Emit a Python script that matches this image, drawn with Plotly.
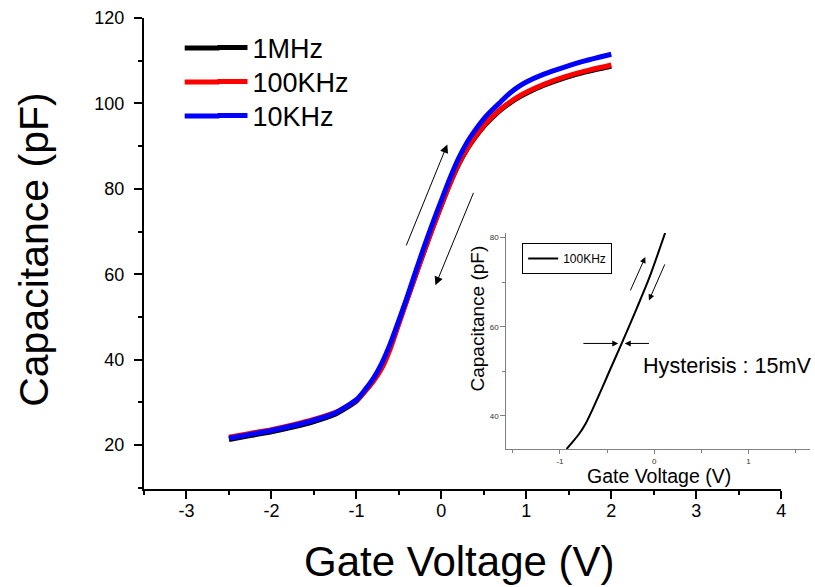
import plotly.graph_objects as go

# ---------------- data ----------------
gate_v = [-2.5, -2.25, -2.0, -1.75, -1.5, -1.25, -1.0, -0.9, -0.8, -0.7, -0.6, -0.5,
          -0.4, -0.3, -0.2, -0.1, 0.0, 0.1, 0.2, 0.3, 0.4, 0.5, 0.6, 0.7, 0.8, 0.9,
          1.0, 1.2, 1.45, 1.7, 2.0]
c_1mhz = [21.3, 22.2, 23.1, 24.2, 25.5, 27.2, 30.3, 32.6, 35.2, 38.6, 43.2, 48.8,
          54.4, 60.0, 65.6, 71.0, 76.2, 81.2, 85.6, 89.2, 92.1, 94.6, 96.7, 98.5, 100.0, 101.3,
          102.4, 104.2, 106.0, 107.4, 108.7]
c_100khz = [21.8, 22.7, 23.6, 24.7, 26.0, 27.6, 30.5, 32.5, 34.9, 38.0, 42.6, 48.4,
            54.2, 59.9, 65.5, 70.9, 76.1, 81.1, 85.6, 89.3, 92.2, 94.8, 96.9, 98.7, 100.2, 101.5,
            102.6, 104.4, 106.2, 107.6, 109.0]
c_10khz = [21.6, 22.5, 23.4, 24.5, 25.8, 27.5, 30.6, 32.9, 35.6, 39.2, 43.8, 49.2,
           54.8, 60.8, 66.6, 72.1, 77.3, 82.4, 87.0, 90.8, 93.8, 96.4, 98.5, 100.4, 102.3, 103.8,
           105.0, 106.8, 108.5, 110.0, 111.5]

inset_v = [-0.93, -0.87, -0.8, -0.73, -0.65, -0.55, -0.47, -0.33, -0.19, -0.05, 0.12]
inset_c = [32.6, 34.1, 35.9, 38.2, 41.7, 46.4, 50.3, 57.0, 63.9, 71.1, 81.3]

x_ticks = [-3, -2, -1, 0, 1, 2, 3, 4]
x_tick_text = ["-3", "-2", "-1", "0", "1", "2", "3", "4"]
y_ticks = [20, 40, 60, 80, 100, 120]
inset_x_ticks = [-1, 0, 1]
inset_x_tick_text = ["-1", "0", "1"]
inset_y_ticks = [40, 60, 80]

series_names = ["1MHz", "100KHz", "10KHz"]
series_colors = ["#000000", "#ff0000", "#0000ff"]

FONT = "Arial, Liberation Sans, sans-serif"

# main plot area: x 144..786 px, y 18..489 px; inset reaches the right edge (815)
PW, PH, L, T = 671, 471, 144, 18
def px_x(p):
    return (p - L) / PW
def px_y(p):
    return (T + PH - p) / PH

legend_rows = [48, 82, 116]          # pixel row centres of the main legend
legend_ids = ["legend", "legend3", "legend4"]

fig = go.Figure()
for name, vals, col, lid in zip(series_names, [c_1mhz, c_100khz, c_10khz],
                                series_colors, legend_ids):
    fig.add_trace(go.Scatter(x=gate_v, y=vals, mode="lines", name=name,
                             line=dict(color=col, width=5, shape="spline", smoothing=0.6),
                             xaxis="x", yaxis="y", legend=lid))

fig.add_trace(go.Scatter(x=inset_v, y=inset_c, mode="lines", name="100KHz",
                         line=dict(color="black", width=2, shape="spline", smoothing=0.8),
                         xaxis="x2", yaxis="y2", legend="legend2"))

main_w = 642 / PW

layout_legends = {}
for lid, row in zip(legend_ids, legend_rows):
    layout_legends[lid] = dict(x=px_x(213), y=px_y(row), xanchor="left", yanchor="middle",
                               font=dict(size=27, family=FONT), bgcolor="rgba(0,0,0,0)",
                               borderwidth=0, itemwidth=30)

fig.update_layout(
    width=815, height=587,
    margin=dict(l=L, r=0, t=T, b=98),
    paper_bgcolor="white", plot_bgcolor="rgba(0,0,0,0)",
    font=dict(family=FONT, color="black"),
    showlegend=True,
    xaxis=dict(domain=[0, main_w], range=[-3.5, 4], tickmode="array",
               tickvals=x_ticks, ticktext=x_tick_text,
               showline=True, linecolor="black", linewidth=2,
               ticks="outside", ticklen=8, tickwidth=2, tickcolor="black",
               minor=dict(tickmode="linear", tick0=-3.5, dtick=0.5, ticks="outside",
                          ticklen=4, tickwidth=2, tickcolor="black"),
               showgrid=False, zeroline=False, tickfont=dict(size=18),
               ticklabelstandoff=-4, anchor="y"),
    yaxis=dict(domain=[0, 1], range=[9.7, 120], tickmode="array", tickvals=y_ticks,
               showline=True, linecolor="black", linewidth=2,
               ticks="outside", ticklen=8, tickwidth=2, tickcolor="black",
               minor=dict(tickmode="linear", tick0=10, dtick=10, ticks="outside",
                          ticklen=4, tickwidth=2, tickcolor="black"),
               showgrid=False, zeroline=False, tickfont=dict(size=18),
               ticklabelstandoff=6, anchor="x"),
    xaxis2=dict(domain=[px_x(509), 1.0], range=[-1.57, 1.653], tickmode="array",
                tickvals=inset_x_ticks, ticktext=inset_x_tick_text,
                showline=True, linecolor="#808080", linewidth=1,
                ticks="outside", ticklen=4, tickwidth=1, tickcolor="#808080",
                minor=dict(tickmode="linear", tick0=-1.5, dtick=0.5, ticks="outside",
                           ticklen=3, tickwidth=1, tickcolor="#808080"),
                showgrid=False, zeroline=False, tickfont=dict(size=8, color="#333333"),
                anchor="y2"),
    yaxis2=dict(domain=[px_y(449), px_y(233)], range=[32.6, 81],
                tickmode="array", tickvals=inset_y_ticks,
                showline=True, linecolor="#808080", linewidth=1,
                ticks="outside", ticklen=5, tickwidth=1, tickcolor="#808080",
                minor=dict(tickmode="linear", tick0=30, dtick=10, ticks="outside",
                           ticklen=3, tickwidth=1, tickcolor="#808080"),
                showgrid=False, zeroline=False, tickfont=dict(size=8, color="#333333"),
                anchor="x2"),
    legend2=dict(x=px_x(525), y=px_y(243), xanchor="left", yanchor="top",
                 font=dict(size=12, family=FONT), bgcolor="white",
                 bordercolor="black", borderwidth=1, itemwidth=30),
    **layout_legends,
)

# lengthen the legend line samples to the left (legend styling only)
shapes = []
for row, col in zip(legend_rows, series_colors):
    shapes.append(dict(type="line", xref="paper", yref="paper",
                       x0=px_x(185), x1=px_x(220), y0=px_y(row), y1=px_y(row),
                       line=dict(color=col, width=5)))
fig.update_layout(shapes=shapes)

annotations = [
    # axis titles
    dict(text="Gate Voltage (V)", xref="paper", yref="paper",
         x=px_x(462), y=px_y(561), showarrow=False,
         font=dict(size=42, family=FONT), xanchor="center", yanchor="middle"),
    dict(text="Capacitance (pF)", xref="paper", yref="paper",
         x=px_x(33), y=px_y(250), showarrow=False, textangle=-90,
         font=dict(size=41, family=FONT), xanchor="center", yanchor="middle"),
    dict(text="Gate Voltage (V)", xref="paper", yref="paper",
         x=px_x(663), y=px_y(476), showarrow=False,
         font=dict(size=19.5, family=FONT), xanchor="center", yanchor="middle"),
    dict(text="Capacitance (pF)", xref="paper", yref="paper",
         x=px_x(480), y=px_y(318), showarrow=False, textangle=-90,
         font=dict(size=19, family=FONT), xanchor="center", yanchor="middle"),
    dict(text="Hysterisis : 15mV", xref="x2", yref="y2", x=-0.137, y=51.2,
         showarrow=False, font=dict(size=21.6, family=FONT), xanchor="left", yanchor="middle"),
]

arrow_style = dict(showarrow=True, text="", arrowhead=2, arrowsize=1.7, arrowwidth=1,
                   arrowcolor="black", standoff=0, startstandoff=0)
# main arrows (tail -> head)
for (tx, ty, hx, hy) in [(-0.42, 66.4, 0.07, 90.4), (0.385, 79.4, -0.07, 57.4)]:
    annotations.append(dict(x=hx, y=hy, ax=tx, ay=ty, xref="x", yref="y",
                            axref="x", ayref="y", **arrow_style))
# inset arrows
inset_arrow = dict(arrow_style, arrowsize=1.2)
for (tx, ty, hx, hy) in [(-0.26, 67.8, -0.095, 75.6), (0.119, 74.3, -0.056, 65.9),
                         (-0.768, 56.25, -0.382, 56.25), (-0.04, 56.25, -0.313, 56.25)]:
    annotations.append(dict(x=hx, y=hy, ax=tx, ay=ty, xref="x2", yref="y2",
                            axref="x2", ayref="y2", **inset_arrow))

fig.update_layout(annotations=annotations)

fig.write_html("out.html")
